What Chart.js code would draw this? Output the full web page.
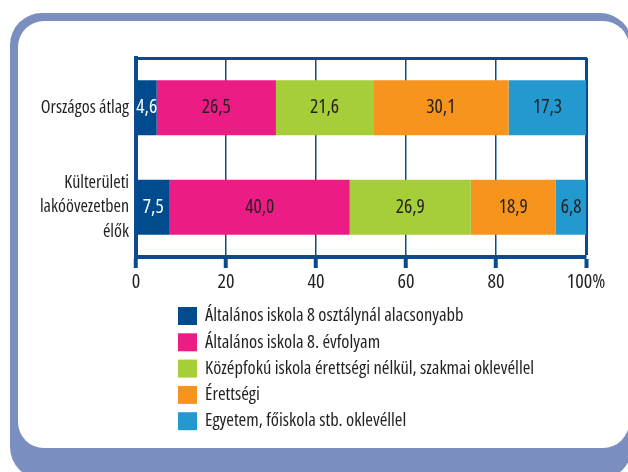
<!DOCTYPE html>
<html>
<head>
<meta charset="utf-8">
<script src="https://cdn.jsdelivr.net/npm/chart.js@4"></script>
<style>
  html, body { margin: 0; padding: 0; background: #ffffff; }
  #wrap { position: relative; width: 628px; height: 472px; overflow: hidden; background: #ffffff; }
  #outer { position: absolute; left: 10px; top: 13px; width: 622px; height: 466px; border-radius: 32px; background: #7b8ec0; }
  #inner { position: absolute; left: 18px; top: 21px; width: 611px; height: 427px; border-radius: 26px; background: #ffffff; }
  #c { position: absolute; left: 0; top: 0; }
</style>
</head>
<body>
<div id="wrap">
  <div id="outer"></div>
  <div id="inner"></div>
  <canvas id="c" width="628" height="472"></canvas>
</div>
<script>
// ---- data ----
const categories = ['Országos átlag', ['Külterületi', 'lakóövezetben', 'élők']];
const seriesNames = [
  'Általános iskola 8 osztálynál alacsonyabb',
  'Általános iskola 8. évfolyam',
  'Középfokú iskola érettségi nélkül, szakmai oklevéllel',
  'Érettségi',
  'Egyetem, főiskola stb. oklevéllel'
];
const belowEight   = [4.6, 7.5];
const eighthGrade  = [26.5, 40.0];
const vocational   = [21.6, 26.9];
const matura       = [30.1, 18.9];
const university   = [17.3, 6.8];
const seriesColors = ['#004b8d', '#ec1c85', '#a6ce39', '#f7941d', '#2499cf'];
const labelColors  = ['#ffffff', '#231f20', '#231f20', '#231f20', '#231f20'];
const xTickValues  = [0, 20, 40, 60, 80, 100];
const xTickLabels  = ['0', '20', '40', '60', '80', '100%'];

const FONT = "'Open Sans', 'DejaVu Sans', sans-serif";
const STRETCH = 'condensed 500';
const AXIS = '#0b4a8e';
const TEXT = '#231f20';

Chart.defaults.font.family = FONT;
Chart.defaults.font.weight = STRETCH;
Chart.defaults.color = TEXT;

const seriesValues = [belowEight, eighthGrade, vocational, matura, university];

const datasets = seriesValues.map((vals, i) => ({
  label: seriesNames[i],
  data: vals,
  backgroundColor: seriesColors[i],
  borderWidth: 0,
  barPercentage: 0.555,
  categoryPercentage: 1.0
}));

const valueLabels = {
  id: 'valueLabels',
  afterDatasetsDraw(chart) {
    const ctx = chart.ctx;
    ctx.save();
    ctx.font = STRETCH + ' 19.5px ' + FONT;
    ctx.textAlign = 'center';
    ctx.textBaseline = 'middle';
    chart.data.datasets.forEach((ds, di) => {
      const meta = chart.getDatasetMeta(di);
      meta.data.forEach((bar, i) => {
        const v = ds.data[i];
        const cx = (bar.x + bar.base) / 2;
        ctx.fillStyle = labelColors[di];
        ctx.fillText(v.toFixed(1).replace('.', ','), cx, bar.y);
      });
    });
    ctx.restore();
  }
};

const listLegend = {
  id: 'listLegend',
  afterDraw(chart) {
    const ctx = chart.ctx;
    const left = 178, top = chart.chartArea.bottom + 50, pitch = 26.3;
    ctx.save();
    ctx.font = STRETCH + ' 18.5px ' + FONT;
    ctx.textAlign = 'left';
    ctx.textBaseline = 'middle';
    chart.data.datasets.forEach((ds, i) => {
      const y = top + i * pitch;
      ctx.fillStyle = ds.backgroundColor;
      ctx.fillRect(left, y, 19, 18);
      ctx.fillStyle = TEXT;
      ctx.fillText(ds.label, left + 27, y + 9);
    });
    ctx.restore();
  }
};

new Chart(document.getElementById('c'), {
  type: 'bar',
  data: { labels: categories, datasets: datasets },
  options: {
    responsive: false,
    animation: false,
    devicePixelRatio: 1,
    indexAxis: 'y',
    layout: { padding: { left: 0, right: 42, top: 58, bottom: 175 } },
    plugins: {
      legend: { display: false },
      tooltip: { enabled: false }
    },
    scales: {
      x: {
        type: 'linear',
        stacked: true,
        min: 0, max: 100,
        afterBuildTicks(scale) { scale.ticks = xTickValues.map(v => ({ value: v })); },
        afterFit(scale) { scale.height = 40; },
        ticks: {
          font: { size: 20 },
          color: TEXT,
          padding: 2,
          maxRotation: 0,
          callback: (v) => xTickLabels[xTickValues.indexOf(v)]
        },
        grid: {
          color: AXIS,
          lineWidth: (c) => (c.tick && c.tick.value === 100) ? 3 : 1.5,
          tickWidth: 4,
          tickColor: AXIS,
          tickLength: 11,
          drawTicks: true
        },
        border: { display: true, color: AXIS, width: 4 }
      },
      x2: {
        type: 'linear',
        axis: 'x',
        position: 'top',
        min: 0, max: 100,
        afterFit(scale) { scale.height = 0; },
        ticks: { display: false },
        grid: { display: false, drawTicks: false },
        border: { display: true, color: AXIS, width: 3 }
      },
      y: {
        stacked: true,
        afterFit(scale) { scale.width = 136; },
        ticks: {
          font: { size: 18, lineHeight: 1.38 },
          color: TEXT,
          padding: 7
        },
        grid: { display: false, drawTicks: false },
        border: { display: true, color: AXIS, width: 4 }
      }
    }
  },
  plugins: [valueLabels, listLegend]
});
</script>
</body>
</html>
